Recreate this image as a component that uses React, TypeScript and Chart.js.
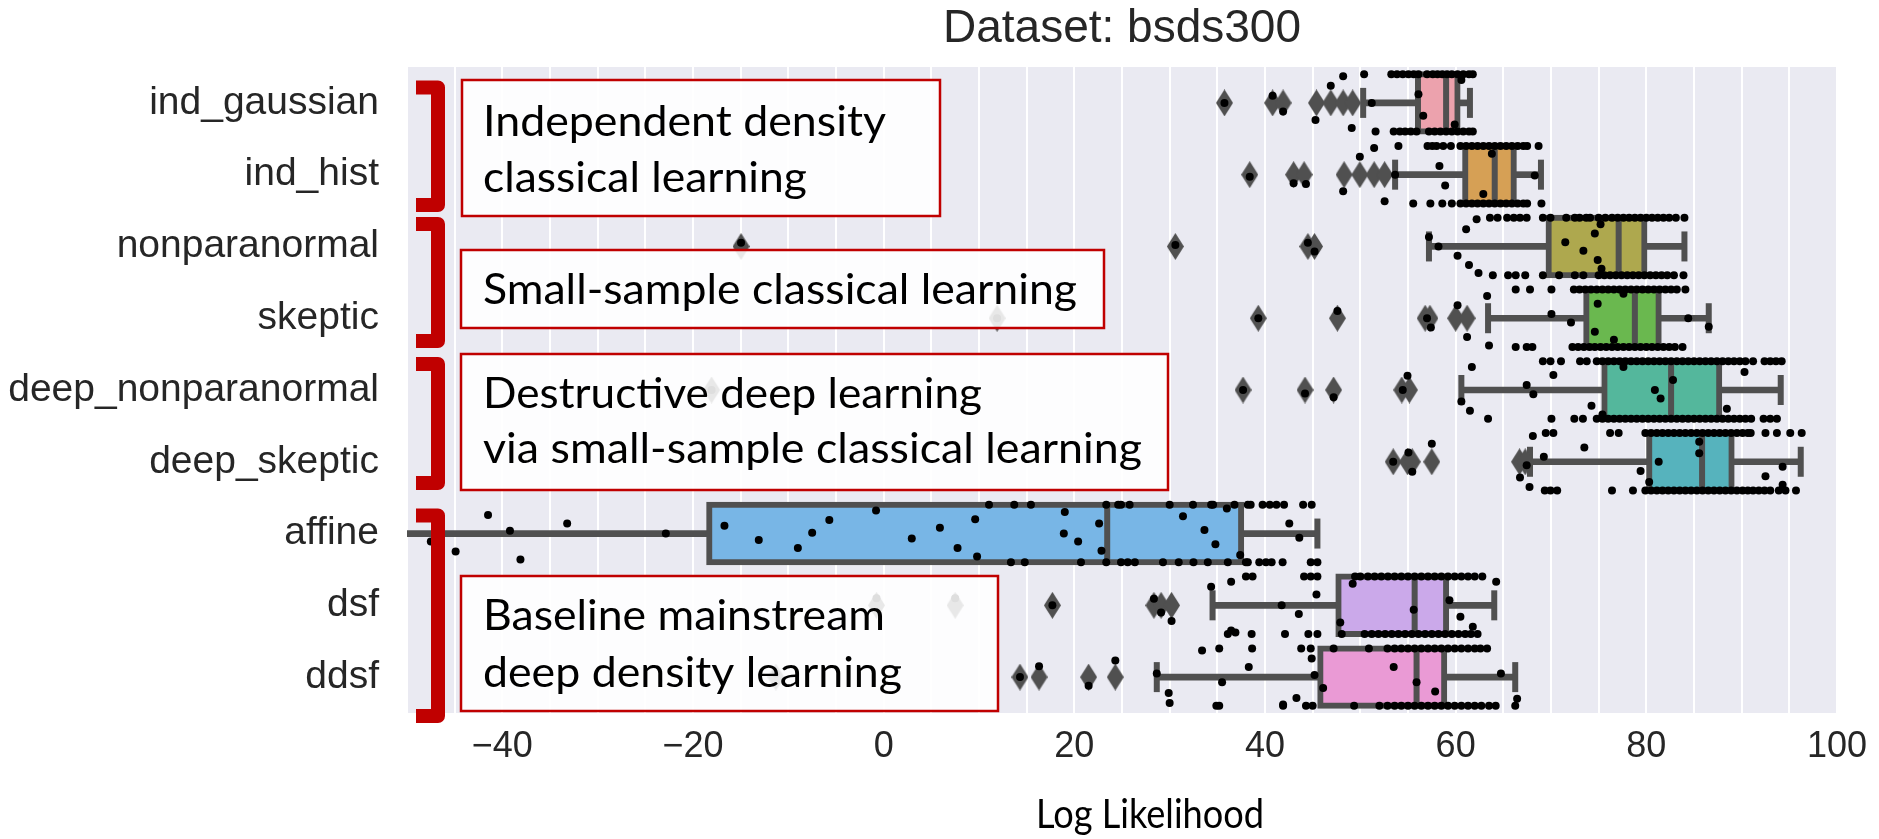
import React, { useEffect, useRef } from 'react';
import { Chart, registerables } from 'chart.js';

Chart.register(...registerables);

// ---------------- DATA ----------------
const CATEGORIES = ['ind_gaussian', 'ind_hist', 'nonparanormal', 'skeptic', 'deep_nonparanormal', 'deep_skeptic', 'affine', 'dsf', 'ddsf'];

const Q1 = [56.05, 61.0, 69.75, 73.7, 75.6, 80.3, -18.3, 47.7, 45.8];
const MEDIAN = [59.0, 64.1, 77.1, 78.8, 82.6, 85.85, 23.45, 55.7, 55.9];
const Q3 = [60.2, 66.1, 79.8, 81.3, 87.65, 88.95, 37.5, 59.0, 58.8];
const WHISKER_LOW = [50.3, 53.65, 57.2, 63.4, 60.6, 67.8, -56.0, 34.5, 28.65];
const WHISKER_HIGH = [61.5, 68.95, 84.0, 86.55, 94.1, 96.2, 45.5, 64.05, 66.25];

const OUTLIERS = [
  [35.75, 40.8, 41.9, 45.4, 46.9, 48.2, 49.2],
  [38.4, 43.0, 44.1, 48.3, 49.95, 51.45, 52.55],
  [-14.96, 30.6, 44.5, 45.2],
  [11.9, 39.3, 47.6, 56.8, 57.3, 60.0, 61.2],
  [-18.05, 37.7, 44.2, 47.2, 54.35, 55.15],
  [53.45, 54.95, 55.45, 57.5, 66.7, 67.3],
  [],
  [-0.75, 7.5, 17.7, 28.35, 29.1, 30.2],
  [-11.3, 14.3, 16.3, 21.5, 24.3],
];

// strip-plot points sitting on the upper jitter edge of each row
const STRIP_TOP = [
  [50.4, 53.25, 53.85, 54.45, 55.05, 55.6, 56.1, 57.0, 57.6, 58.1, 58.6, 59.1, 59.6, 60.2, 60.8, 61.4, 61.8],
  [54.0, 57.05, 57.55, 58.0, 58.7, 59.5, 60.5, 61.1, 61.7, 62.3, 62.9, 63.5, 64.1, 64.7, 65.3, 65.9, 66.5, 67.1, 67.5, 68.7],
  [63.6, 64.4, 65.4, 66.1, 66.75, 67.45, 69.15, 69.95, 71.6, 72.5, 73.0, 73.7, 74.1, 75.0, 75.7, 76.4, 77.0, 77.6, 78.2, 78.8, 79.4, 80.0, 80.6, 81.2, 81.8, 82.4, 83.1, 84.0],
  [66.3, 67.8, 70.05, 72.4, 73.0, 73.6, 74.2, 74.8, 75.4, 76.0, 76.6, 77.2, 77.8, 78.4, 79.0, 79.6, 80.2, 80.8, 81.4, 82.0, 82.6, 83.2, 84.1],
  [69.15, 69.95, 71.05, 73.05, 73.75, 74.8, 75.4, 76.0, 76.6, 77.2, 77.8, 78.4, 79.0, 79.6, 80.2, 80.8, 81.4, 82.0, 82.6, 83.2, 83.8, 84.4, 85.0, 85.6, 86.2, 86.8, 87.4, 88.0, 88.6, 89.2, 89.8, 90.4, 91.2, 92.4, 93.0, 93.6, 94.2],
  [69.45, 70.25, 76.2, 77.1, 79.9, 80.5, 81.1, 81.7, 82.3, 82.9, 83.5, 84.1, 84.7, 85.3, 85.9, 86.5, 87.1, 87.7, 88.3, 88.9, 89.5, 90.1, 90.65, 90.95, 92.5, 93.7, 95.1, 96.3],
  [11.05, 13.7, 15.45, 23.35, 24.6, 24.9, 25.8, 30.0, 32.45, 34.35, 34.55, 36.8, 38.2, 38.5, 39.75, 40.5, 41.2, 42.0, 44.0, 44.9],
  [38.0, 38.7, 44.1, 44.8, 45.5, 49.45, 50.0, 50.8, 51.5, 52.2, 52.9, 53.6, 54.3, 55.0, 55.7, 56.4, 57.1, 57.8, 58.5, 59.2, 59.9, 60.6, 61.3, 62.0, 62.8],
  [35.2, 38.65, 43.8, 44.8, 47.2, 50.9, 52.85, 53.6, 54.3, 55.0, 55.7, 56.4, 57.1, 57.8, 58.5, 59.2, 59.9, 60.6, 61.3, 62.0, 62.6, 63.3],
];

// strip-plot points sitting on the lower jitter edge of each row
const STRIP_BOTTOM = [
  [51.6, 53.5, 54.15, 54.7, 55.3, 55.9, 57.2, 57.8, 58.4, 59.0, 59.6, 60.2, 60.8, 61.4, 61.8],
  [55.55, 57.35, 58.6, 59.6, 60.5, 61.1, 61.7, 62.3, 62.9, 63.5, 64.1, 64.7, 65.3, 65.9, 66.5, 67.1, 67.5, 69.0],
  [63.9, 65.5, 66.3, 67.3, 69.15, 70.85, 72.5, 73.4, 75.0, 75.6, 76.2, 76.8, 77.4, 78.0, 78.6, 79.2, 79.8, 80.4, 81.0, 81.6, 82.2, 82.9, 83.9],
  [66.3, 67.45, 68.05, 72.25, 72.85, 73.45, 74.05, 74.6, 75.2, 75.8, 76.4, 77.0, 77.6, 78.2, 78.8, 79.4, 80.0, 80.6, 81.2, 81.8, 82.4, 83.0, 83.8],
  [70.05, 72.45, 73.35, 74.8, 75.4, 76.0, 76.6, 77.2, 77.8, 78.4, 79.0, 79.6, 80.2, 80.8, 81.4, 82.0, 82.6, 83.2, 83.8, 84.4, 85.0, 85.6, 86.2, 86.8, 87.4, 88.0, 88.6, 89.2, 89.8, 90.4, 91.0, 92.3, 93.0, 93.7],
  [69.35, 69.95, 70.65, 76.4, 78.6, 79.9, 80.5, 81.1, 81.7, 82.3, 82.9, 83.5, 84.1, 84.7, 85.3, 85.9, 86.5, 87.1, 87.7, 88.3, 88.9, 89.5, 90.1, 90.65, 91.2, 91.8, 92.4, 93.0, 93.9, 94.6, 95.7],
  [13.35, 14.8, 20.7, 23.35, 24.9, 25.6, 26.35, 29.3, 30.95, 32.5, 34.0, 36.1, 38.0, 38.2, 39.4, 40.1, 40.7, 41.85, 44.8, 45.5],
  [36.1, 38.6, 42.1, 44.55, 45.5, 48.05, 50.45, 51.2, 51.9, 52.6, 53.3, 54.0, 54.7, 55.4, 56.1, 56.8, 57.5, 58.2, 58.9, 59.6, 60.3, 61.0, 61.6, 62.3],
  [34.9, 35.2, 41.9, 44.3, 45.0, 49.35, 52.0, 52.85, 53.6, 54.3, 55.0, 55.7, 56.4, 57.1, 57.8, 58.5, 59.2, 59.9, 60.6, 61.3, 62.0, 62.7, 63.5, 64.2, 66.25],
];

// remaining strip-plot points: [value, vertical jitter in row units]
const STRIP_SCATTER = [
  [[48.2, -0.37], [46.9, -0.24], [45.3, 0.24], [49.1, 0.35], [51.2, 0], [56.1, -0.12], [56.6, 0.18], [59.9, 0.3], [60.6, -0.32], [35.75, 0], [40.8, -0.1], [41.9, 0.12]],
  [[51.45, -0.37], [49.95, -0.25], [58.3, -0.12], [53.65, 0], [58.9, 0.15], [63.8, -0.29], [62.9, 0.27], [68.3, 0.01], [48.2, 0.23], [44.3, 0.13], [52.55, 0.37], [38.4, 0.03], [43.0, 0.12]],
  [[62.2, -0.38], [61.1, -0.24], [57.2, -0.13], [58.2, 0], [60.2, 0.13], [61.4, 0.26], [62.4, 0.37], [75.2, -0.31], [74.6, -0.18], [71.5, -0.06], [73.4, 0.06], [74.9, 0.19], [75.3, 0.31], [-14.96, -0.05], [30.6, -0.02], [44.5, -0.05], [45.2, 0.07]],
  [[63.3, -0.31], [60.2, -0.18], [57.0, 0], [57.4, 0.13], [61.2, 0.26], [47.6, -0.1], [70.05, -0.06], [72.1, 0.06], [74.9, -0.2], [74.6, 0.19], [76.6, 0.3], [77.6, -0.34], [84.4, 0], [86.55, 0.12], [11.9, 0], [39.3, 0], [63.5, 0.38]],
  [[61.7, -0.32], [70.25, -0.21], [67.45, -0.07], [68.15, 0.06], [60.6, 0.16], [61.5, 0.29], [63.4, 0.4], [77.6, -0.32], [80.9, 0], [81.5, 0.12], [82.8, -0.14], [74.25, 0.22], [75.4, 0.34], [90.3, -0.25], [88.45, 0.26], [54.95, -0.2], [54.45, 0], [47.2, 0.1], [37.7, 0], [44.2, 0.05], [-18.05, 0]],
  [[68.1, -0.36], [69.25, -0.07], [67.45, 0.05], [66.75, 0.22], [67.75, 0.35], [57.5, -0.25], [55.05, -0.13], [53.45, 0], [55.45, 0.14], [73.5, -0.2], [79.4, 0.13], [80.3, 0.28], [81.3, 0], [85.55, -0.28], [85.55, -0.12], [94.3, 0.07], [92.5, 0.2], [94.3, 0.32]],
  [[-47.5, 0.11], [-44.9, 0.25], [-41.5, -0.26], [-39.2, -0.04], [-38.1, 0.36], [-33.2, -0.14], [-22.85, 0], [-16.7, -0.11], [-13.1, 0.09], [-9.0, 0.2], [-7.5, -0.01], [-5.7, -0.19], [-0.8, -0.32], [2.95, 0.07], [5.9, -0.08], [7.75, 0.2], [9.6, -0.2], [9.8, 0.32], [19.0, -0.3], [18.9, 0], [20.4, 0.11], [22.6, -0.14], [22.85, 0.24], [31.4, -0.24], [33.65, -0.05], [34.8, 0.15], [36.0, -0.35], [37.4, 0.3], [42.55, -0.14], [43.6, 0.06]],
  [[36.45, -0.33], [34.35, -0.26], [45.4, -0.15], [49.2, -0.3], [41.75, 0], [43.55, 0.12], [55.6, 0.06], [47.9, 0.24], [29.1, 0.1], [30.2, 0.22], [28.35, -0.09], [17.7, 0], [36.45, 0.35], [36.9, 0.38], [59.35, -0.07], [60.5, 0.16], [61.8, 0.3], [64.25, -0.33], [-0.75, -0.1], [7.5, -0.1]],
  [[24.3, -0.23], [16.3, -0.15], [38.3, -0.14], [44.9, -0.26], [53.5, -0.14], [28.65, -0.05], [45.2, -0.03], [35.5, 0.07], [46.1, 0.15], [14.3, 0], [21.5, 0.12], [29.9, 0.22], [30.0, 0.36], [43.3, 0.29], [41.9, 0.38], [55.9, 0.07], [57.85, 0.2], [64.75, -0.05], [66.45, 0.3], [33.4, -0.37], [-11.3, -0.05]],
];

const X_LABELED_TICKS = [-40, -20, 0, 20, 40, 60, 80, 100];

const TITLE = 'Dataset: bsds300';
const X_TITLE = 'Log Likelihood';

const ANNOTATION_TEXTS = [
  ['Independent density', 'classical learning'],
  ['Small-sample classical learning'],
  ['Destructive deep learning', 'via small-sample classical learning'],
  ['Baseline mainstream', 'deep density learning'],
];

// ---------------- STYLE / LAYOUT ----------------
const BOX_COLORS = ['#ECA2AD', '#D6A055', '#AEA84E', '#6AB84F', '#54B79C', '#56B3BD', '#78B6E6', '#CBA9EA', '#EA9AD5'];
const LINE_GRAY = '#505050';
const TEXT_DARK = '#262626';
const PLOT_BG = '#EAEAF2';
const RED = '#C00000';
const JITTER_EDGE = 0.4;
const SANS = '"Liberation Sans", Arial, Helvetica, sans-serif';
const CALIBRI_LIKE = 'Lato, "Open Sans", sans-serif';

const W = 1879;
const H = 839;

const ANNOTATION_LAYOUT = [
  { x: 462, y: 80, w: 478, h: 136, textX: 483, lines: [{ base: 136, width: 403 }, { base: 192, width: 324 }] },
  { x: 461, y: 250, w: 643, h: 78, textX: 483, lines: [{ base: 304, width: 594 }] },
  { x: 461, y: 354, w: 707, h: 136, textX: 483, lines: [{ base: 408, width: 499 }, { base: 463, width: 659 }] },
  { x: 461, y: 576, w: 537, h: 135, textX: 483, lines: [{ base: 630, width: 402 }, { base: 687, width: 419 }] },
];
const BRACKETS = [
  { top: 87.5, bottom: 205 },
  { top: 224, bottom: 341 },
  { top: 364, bottom: 483 },
  { top: 515.5, bottom: 716 },
];

function fmtTick(v: number): string {
  if (v < 0) return '\u2212' + Math.abs(v);
  return String(v);
}

function fitText(ctx: CanvasRenderingContext2D, text: string, x: number, y: number, width: number) {
  const m = ctx.measureText(text).width;
  const s = width / m;
  ctx.save();
  ctx.translate(x, y);
  ctx.scale(s, 1);
  ctx.fillText(text, 0, 0);
  ctx.restore();
}

function makeDiamond(): HTMLCanvasElement {
  const c = document.createElement('canvas');
  c.width = 17;
  c.height = 27;
  const g = c.getContext('2d')!;
  g.fillStyle = LINE_GRAY;
  g.beginPath();
  g.moveTo(8.5, 0);
  g.lineTo(17, 13.5);
  g.lineTo(8.5, 27);
  g.lineTo(0, 13.5);
  g.closePath();
  g.fill();
  return c;
}

const overlayPlugin = {
  id: 'overlayPlugin',
  beforeDraw(chart: any) {
    const { ctx, chartArea: a } = chart;
    ctx.save();
    ctx.fillStyle = '#ffffff';
    ctx.fillRect(0, 0, chart.width, chart.height);
    ctx.fillStyle = PLOT_BG;
    ctx.fillRect(a.left, a.top, a.right - a.left, a.bottom - a.top);
    ctx.restore();
  },
  afterDraw(chart: any) {
    const { ctx, chartArea: a } = chart;
    ctx.save();
    // title
    ctx.fillStyle = TEXT_DARK;
    ctx.font = `46px ${SANS}`;
    ctx.textAlign = 'center';
    ctx.textBaseline = 'alphabetic';
    ctx.fillText(TITLE, (a.left + a.right) / 2, 42);

    // x title
    ctx.fillStyle = '#000000';
    ctx.textAlign = 'left';
    ctx.font = `40px ${CALIBRI_LIKE}`;
    fitText(ctx, X_TITLE, 1036, 828, 228);

    // annotation boxes
    ANNOTATION_LAYOUT.forEach((b, k) => {
      ctx.fillStyle = 'rgba(255,255,255,0.87)';
      ctx.fillRect(b.x, b.y, b.w, b.h);
      ctx.strokeStyle = RED;
      ctx.lineWidth = 2.5;
      ctx.strokeRect(b.x, b.y, b.w, b.h);
      ctx.fillStyle = '#000000';
      ctx.font = `42px ${CALIBRI_LIKE}`;
      b.lines.forEach((ln, j) => {
        fitText(ctx, ANNOTATION_TEXTS[k][j], b.textX, ln.base, ln.width);
      });
    });

    // brackets
    ctx.strokeStyle = RED;
    ctx.lineWidth = 14;
    ctx.lineJoin = 'round';
    ctx.lineCap = 'butt';
    BRACKETS.forEach((br) => {
      ctx.beginPath();
      ctx.moveTo(416, br.top);
      ctx.lineTo(438, br.top);
      ctx.lineTo(438, br.bottom);
      ctx.lineTo(416, br.bottom);
      ctx.stroke();
    });
    ctx.restore();
  },
};

export default function App() {
  const canvasRef = useRef<HTMLCanvasElement | null>(null);

  useEffect(() => {
    let chart: Chart | null = null;
    let cancelled = false;
    const build = () => {
      if (cancelled || !canvasRef.current) return;
      const diamond = makeDiamond();

      const stripData: { x: number; y: number }[] = [];
      CATEGORIES.forEach((_, i) => {
        STRIP_TOP[i].forEach((v) => stripData.push({ x: v, y: i - JITTER_EDGE }));
        STRIP_BOTTOM[i].forEach((v) => stripData.push({ x: v, y: i + JITTER_EDGE }));
        STRIP_SCATTER[i].forEach(([v, o]) => stripData.push({ x: v, y: i + o }));
      });
      const outlierData: { x: number; y: number }[] = [];
      OUTLIERS.forEach((arr, i) => arr.forEach((v) => outlierData.push({ x: v, y: i })));
      const medianData = MEDIAN.map((v, i) => ({ x: v, y: i }));
      const capData: { x: number; y: number }[] = [];
      CATEGORIES.forEach((_, i) => {
        capData.push({ x: WHISKER_LOW[i], y: i });
        capData.push({ x: WHISKER_HIGH[i], y: i });
      });

      chart = new Chart(canvasRef.current, {
        type: 'bar',
        data: {
          datasets: [
            {
              type: 'scatter',
              label: 'points',
              data: stripData,
              order: 0,
              pointRadius: 4,
              pointHoverRadius: 4,
              pointBackgroundColor: '#000000',
              pointBorderWidth: 0,
            } as any,
            {
              type: 'scatter',
              label: 'outliers',
              data: outlierData,
              order: 1,
              pointStyle: diamond,
              pointRadius: 9,
              pointBorderWidth: 0,
            } as any,
            {
              type: 'scatter',
              label: 'median',
              data: medianData,
              order: 2,
              pointStyle: 'line',
              pointRotation: 90,
              pointRadius: 28.5,
              pointHoverRadius: 28.5,
              pointBorderWidth: 6,
              pointBorderColor: LINE_GRAY,
            } as any,
            {
              type: 'scatter',
              label: 'caps',
              data: capData,
              order: 3,
              pointStyle: 'line',
              pointRotation: 90,
              pointRadius: 15,
              pointHoverRadius: 15,
              pointBorderWidth: 6,
              pointBorderColor: LINE_GRAY,
            } as any,
            {
              type: 'bar',
              label: 'box',
              data: CATEGORIES.map((_, i) => ({ x: [Q1[i], Q3[i]], y: i })),
              order: 4,
              indexAxis: 'y',
              grouped: false,
              barPercentage: 0.8,
              categoryPercentage: 1,
              backgroundColor: BOX_COLORS,
              borderColor: LINE_GRAY,
              borderWidth: 6,
              borderSkipped: false,
              inflateAmount: 3,
            } as any,
            {
              type: 'bar',
              label: 'whisker-low',
              data: CATEGORIES.map((_, i) => ({ x: [WHISKER_LOW[i], Q1[i]], y: i })),
              order: 5,
              indexAxis: 'y',
              grouped: false,
              barThickness: 6,
              backgroundColor: LINE_GRAY,
              borderWidth: 0,
            } as any,
            {
              type: 'bar',
              label: 'whisker-high',
              data: CATEGORIES.map((_, i) => ({ x: [Q3[i], WHISKER_HIGH[i]], y: i })),
              order: 5,
              indexAxis: 'y',
              grouped: false,
              barThickness: 6,
              backgroundColor: LINE_GRAY,
              borderWidth: 0,
            } as any,
          ],
        },
        options: {
          indexAxis: 'y',
          responsive: false,
          maintainAspectRatio: false,
          devicePixelRatio: 1,
          animation: false,
          events: [],
          layout: { padding: { top: 67, right: 39, left: 0, bottom: 0 } },
          plugins: {
            legend: { display: false },
            title: { display: false },
            tooltip: { enabled: false },
          },
          scales: {
            x: {
              type: 'linear',
              min: -50,
              max: 100,
              offset: false,
              grid: { color: '#ffffff', lineWidth: 2, drawTicks: false, offset: false },
              border: { display: false },
              ticks: {
                stepSize: 5,
                autoSkip: false,
                maxRotation: 0,
                minRotation: 0,
                padding: 12,
                color: TEXT_DARK,
                font: { family: SANS, size: 36 },
                callback: (v: any) => {
                  const r = Math.round(Number(v));
                  return X_LABELED_TICKS.includes(r) ? fmtTick(r) : '';
                },
              },
              afterFit: (s: any) => {
                s.height = 126;
              },
            },
            y: {
              type: 'linear',
              min: -0.5,
              max: 8.5,
              reverse: true,
              offset: false,
              grid: { display: false, drawTicks: false, offset: false },
              border: { display: false },
              afterBuildTicks: (s: any) => {
                s.ticks = CATEGORIES.map((_, i) => ({ value: i }));
              },
              ticks: {
                autoSkip: false,
                padding: 28,
                color: TEXT_DARK,
                font: { family: SANS, size: 39 },
                callback: (v: any) => CATEGORIES[Math.round(Number(v))] ?? '',
              },
              afterFit: (s: any) => {
                s.width = 407;
              },
            },
          },
        } as any,
        plugins: [overlayPlugin],
      });
    };

    const fontsApi: any = (document as any).fonts;
    if (fontsApi && fontsApi.load) {
      Promise.all([
        fontsApi.load(`42px Lato`),
        fontsApi.load(`38px "Liberation Sans"`),
      ])
        .catch(() => null)
        .then(() => build());
    } else {
      build();
    }

    return () => {
      cancelled = true;
      if (chart) chart.destroy();
    };
  }, []);

  return (
    <div style={{ position: 'absolute', left: 0, top: 0, width: W, height: H, background: '#ffffff' }}>
      <canvas ref={canvasRef} width={W} height={H} style={{ display: 'block', width: W, height: H }} />
    </div>
  );
}
